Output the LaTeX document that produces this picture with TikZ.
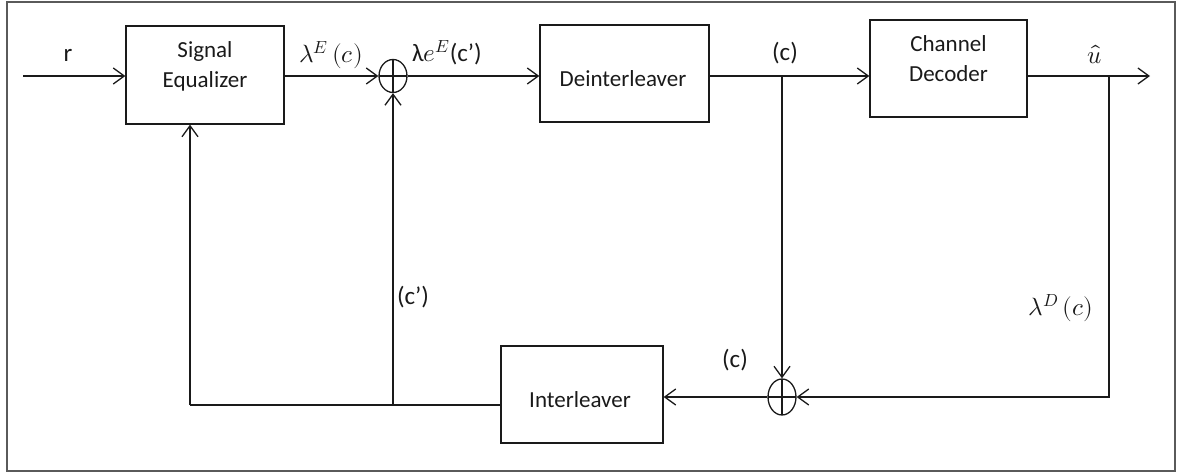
\documentclass[tikz,border=0pt]{standalone}
\usepackage{fontspec}
\usepackage{unicode-math}
\setmainfont{Carlito}
\setmathfont{Latin Modern Math}
\usetikzlibrary{arrows.meta,shapes.geometric}
\definecolor{linec}{HTML}{1A1A1A}
\definecolor{framec}{HTML}{5A5A5A}
\begin{document}
\begin{tikzpicture}[x=1pt,y=-1pt,
  lw/.style={line width=1.3pt, draw=linec},
  blk/.style={lw, rectangle, inner sep=0pt},
  txt/.style={inner sep=0pt, align=center, font=\fontsize{23}{30}\selectfont, text=linec},
  lab/.style={inner sep=0pt, font=\fontsize{25}{30}\selectfont, text=linec},
  sumn/.style={lw, ellipse, minimum width=28pt, minimum height=33pt, inner sep=0pt,
    path picture={\draw[lw] (path picture bounding box.north) -- (path picture bounding box.south)
      (path picture bounding box.west) -- (path picture bounding box.east);}},
  arr/.style={lw, -{Straight Barb[length=11pt,width=16pt,line width=1.3pt]}}
]
\useasboundingbox (0,0) rectangle (1180,473);
\draw[line width=1.3pt, draw=framec] (7,2) rectangle (1175,471);

% blocks
\node[blk, minimum width=158pt, minimum height=98pt] (eq) at (205,75) {};
\node[blk, minimum width=169pt, minimum height=97pt] (dint) at (624.5,73.5) {};
\node[blk, minimum width=157pt, minimum height=97pt] (cd) at (948.5,68.5) {};
\node[blk, minimum width=162pt, minimum height=97pt] (il) at (582,394.5) {};

\node[txt] (eqt) at (205,66) {Signal\\Equalizer};
\node[txt] (dintt) at (623,79) {Deinterleaver};
\node[txt] (cdt) at (948.5,59) {Channel\\Decoder};
\node[txt] (ilt) at (580,400) {Interleaver};

% summing junctions
\node[sumn] (s1) at (393,76) {};
\node[sumn, minimum height=36pt] (s2) at (782,397) {};

% coordinates
\coordinate (r0) at (23,76);
\coordinate (b1) at (782,76);
\coordinate (b2) at (1109,76);
\coordinate (out) at (1150,76);
\coordinate (f) at (190,405);
\coordinate (j) at (393,405);

% connectors
\draw[arr] (r0) -- (eq.west |- r0);
\draw[arr] (eq.east |- r0) -- (s1.west);
\draw[arr] (s1.east) -- (dint.west |- r0);
\draw[arr] (dint.east |- r0) -- (cd.west |- r0);
\draw[arr] (cd.east |- r0) -- (out);
\draw[arr] (b1) -- (s2.north);
\draw[arr] (b2) |- (s2.east);
\draw[arr] (s2.west) -- (il.east |- s2);
\draw[lw] (il.west |- f) -- (j) -- (f);
\draw[arr] (f) -- (f |- eq.south);
\draw[arr] (j) -- (s1.south);

% labels
\node[lab] (lr) at (68,55) {r};
\node[lab] (lle) at (331,55) {$\lambda^{E}\,(c)$};
\node[lab] (llee) at (447,53) {λ$e^{E}$(c’)};
\node[lab] (lc1) at (785,53) {(c)};
\node[lab] (lu) at (1095,54) {$\hat{u}$};
\node[lab] (lcp) at (413,297) {(c’)};
\node[lab] (lc2) at (735,360) {(c)};
\node[lab] (lld) at (1061,308) {$\lambda^{D}\,(c)$};
\end{tikzpicture}
\end{document}
